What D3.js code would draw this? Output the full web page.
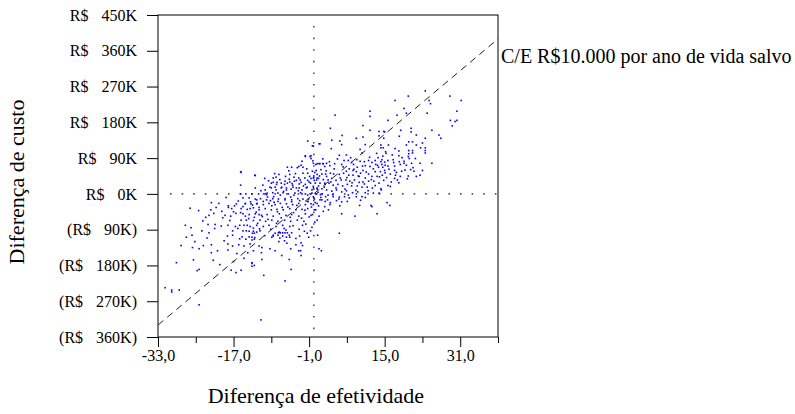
<!DOCTYPE html>
<html>
<head>
<meta charset="utf-8">
<script src="https://cdn.jsdelivr.net/npm/d3@7"></script>
<style>
  html, body { margin: 0; padding: 0; background: #fff; }
  svg { display: block; font-family: "Liberation Serif", "Times New Roman", serif; }
</style>
</head>
<body>
<div id="chart"></div>
<script>
// Cost-effectiveness scatter: effectiveness difference vs cost difference (K R$)
const width = 795, height = 414;
const margin = { top: 15, right: 297, bottom: 77, left: 158 };

const xTicks = [-33, -25, -17, -9, -1, 7, 15, 23, 31, 39];
const xLabelled = [-33, -17, -1, 15, 31];
const yTicks = [-360, -270, -180, -90, 0, 90, 180, 270, 360, 450];
const wtpPerYear = 10; // K R$ per life-year saved
const wtpLabel = "C/E R$10.000 por ano de vida salvo";

// [effectiveness difference, cost difference in K R$]
const iterations = [
  [20.0,246],[23.6,259],[28.8,246],[31.2,235],[17.2,235],[24.4,235],[24.7,227],[19.1,215],[19.6,203],[17.6,198],
  [24.0,203],[30.3,208],[28.9,185],[29.9,182],[30.3,185],[29.3,171],[15.7,185],[25.0,160],[26.5,148],[26.9,140],
  [20.6,165],[20.6,156],[18.4,160],[21.7,148],[18.1,145],[15.0,156],[23.6,140],[20.9,131],[20.1,131],[23.0,128],
  [21.7,123],[19.6,123],[14.2,123],[15.8,123],[22.6,116],[23.6,116],[23.6,109],[23.6,103],[20.1,109],[20.9,109],
  [18.0,108],[17.2,114],[15.2,106],[15.3,102],[20.1,101],[20.9,103],[16.6,98],[18.0,96],[20.0,94],[21.5,89],
  [20.2,89],[19.1,82],[19.1,77],[20.7,77],[22.5,77],[25.0,77],[14.2,81],[15.7,84],[16.8,86],[18.1,81],
  [15.1,72],[14.6,67],[15.7,70],[17.1,70],[18.3,74],[19.6,72],[21.0,66],[20.5,61],[23.0,59],[17.1,59],
  [15.0,59],[18.6,57],[21.2,57],[16.2,50],[17.3,47],[18.3,44],[20.0,45],[21.7,44],[22.5,47],[17.1,39],
  [17.7,35],[15.7,21],[16.2,19],[14.2,13],[14.2,116],[14.7,116],
  [11.9,208],[4.5,198],[11.9,195],[10.4,172],[3.5,165],[6.0,147],[11.9,160],[13.8,157],[14.8,157],
  [3.8,135],[5.5,133],[5.9,124],[3.7,114],[9.0,140],[10.4,143],[13.8,146],[14.8,140],[1.1,126],[-0.1,120],
  [9.8,112],[10.2,103],[10.9,124],[6.9,98],[5.4,97],[6.4,84],[7.3,84],[8.0,79],[8.4,74],[9.1,86],
  [9.8,82],[10.7,81],[11.6,84],[12.3,79],[13.0,84],[13.6,91],[14.4,86],[15.0,80],[13.1,74],[13.5,72],
  [14.4,74],[11.9,69],[10.9,71],[9.2,67],[1.1,76],[1.9,76],[2.7,77],[0.4,74],[-0.3,57],[1.5,61],
  [2.3,69],[3.4,71],[4.4,76],[5.9,74],[6.9,57],[7.5,63],[8.3,59],[9.0,56],[9.9,52],[10.4,59],
  [11.6,50],[13.0,56],[14.1,56],[15.1,53],[13.7,67],[12.3,44],[13.4,44],[14.5,47],[10.9,40],[9.6,44],
  [8.3,47],[7.4,47],[6.3,52],[5.4,49],[4.2,50],[3.5,52],[2.5,50],[1.7,50],[0.7,49],[0,45],
  [-0.6,39],[0.1,34],[1.0,39],[2.0,36],[3.0,35],[3.8,39],[4.7,34],[5.6,40],[6.8,35],[7.6,32],
  [8.6,35],[9.6,29],[10.4,30],[11.6,32],[12.7,32],[13.8,27],[14.8,34],[1.3,27],[2.4,24],[3.2,27],
  [4.1,22],[5.1,24],[6.1,20],[7.1,24],[8.0,20],[9.2,20],[10.2,17],[11.3,17],[12.4,15],[-0.1,19],
  [0.7,15],[1.7,13],[2.7,10],[3.8,7],[4.8,10],[5.9,5],[6.9,8],[8.2,3],[9.3,5],[10.9,3],
  [12.6,2],[13.8,2],[-0.4,2],[0.6,0],[1.8,0],[3.0,-3],[4.1,-7],[5.4,-8],[6.5,-7],[7.5,-10],
  [0.1,-13],[1.3,-15],[2.4,-19],[3.5,-22],[4.8,-17],[5.9,-20],[7.1,-19],[9.0,-7],[10.2,-7],[-0.1,-27],
  [1.0,-30],[2.3,-32],[3.4,-27],[5.5,-30],[9.7,-29],[12.3,-32],[15.5,-22],[0.4,-40],[2.0,-44],[3.1,-40],
  [5.9,-50],[8.7,-56],[-0.3,-52],[1.1,-56],[16.1,-29],[13.4,-50],[12.1,-29],[10.9,-9],
  [-1.8,94],[-0.8,94],[-0.6,89],[-2.5,82],[-0.1,77],[0.7,76],[-3.2,69],[-5.6,67],[-4.7,67],[-12.5,47],
  [-15.5,56],[-7.4,49],[-5.1,49],[-2.3,52],[-1.3,52],[0.2,54],[-3.2,40],[-1.9,40],[-0.1,40],[0.7,40],
  [-8.6,29],[-7.8,29],[-6.2,24],[-5.1,30],[-4.1,32],[-2.7,29],[-1.0,30],[0.3,27],[-9.3,17],[-8.2,17],
  [-6.8,17],[-5.8,15],[-4.4,17],[-3.1,15],[-1.4,17],[-0.1,15],[1.0,20],[-15.5,0],[-14.4,0],[-13.1,0],
  [-11.7,0],[-10.3,0],[-9.9,2],[-8.7,3],[-7.6,2],[-6.5,3],[-5.4,0],[-4.0,2],[-2.8,3],[-1.8,0],
  [-0.6,0],[0.4,0],[-15.0,-10],[-13.7,-10],[-12.4,-13],[-11.3,-12],[-10.0,-15],[-8.7,-12],[-7.5,-13],[-6.1,-12],
  [-4.7,-15],[-3.4,-12],[-2.3,-13],[-1.1,-13],[0,-10],[-14.5,-24],[-13.3,-25],[-12.0,-24],[-10.7,-27],[-9.5,-24],
  [-8.2,-27],[-7.1,-24],[-5.8,-25],[-4.5,-27],[-3.2,-24],[-1.8,-27],[-0.6,-25],[0.7,-24],[-15.4,-37],[-14.1,-39],
  [-12.8,-35],[-11.6,-40],[-10.3,-37],[-9.0,-40],[-7.8,-39],[-6.5,-40],[-5.1,-37],[-3.8,-40],[-2.5,-39],[-1.3,-37],
  [0.1,-40],[-15.0,-50],[-13.7,-52],[-12.4,-50],[-11.1,-54],[-9.9,-52],[-8.6,-56],[-7.3,-50],[-5.9,-54],[-4.7,-52],
  [-3.2,-56],[-1.8,-50],[-0.6,-54],[-15.4,-66],[-14.3,-66],[-12.8,-67],[-11.4,-66],[-10.2,-69],[-8.9,-66],[-7.6,-69],
  [-6.2,-66],[-4.9,-69],[-3.5,-66],[-2.1,-69],[0.7,-66],[-14.8,-79],[-13.5,-82],[-12.1,-79],[-10.7,-82],[-9.5,-79],
  [-8.0,-82],[-6.6,-79],[-5.1,-82],[-2.4,-79],[-14.3,-93],[-12.8,-94],[-11.4,-93],[-7.3,-96],[-5.9,-91],[-4.7,-98],
  [-2.0,-94],[-0.7,-93],[-15.2,-108],[-13.7,-108],[-8.6,-106],[-7.2,-111],[-5.1,-109],[-3.0,-106],[-12.6,-114],
  [-26.2,-36],[-21.7,-22],[-20.7,-34],[-19.5,-44],[-18.1,-30],[-17.4,-37],[-16.4,-25],[-14.5,-25],[-13.4,-20],[-12.1,-25],
  [-11.6,-34],[-27.2,-79],[-22.9,-59],[-22.2,-54],[-21.2,-49],[-18.8,-54],[-17.6,-56],[-16.5,-49],[-15.5,-47],[-14.5,-56],
  [-12.6,-59],[-11.6,-52],[-22.4,-77],[-20.9,-77],[-19.6,-81],[-18.2,-79],[-16.6,-82],[-15.7,-79],[-14.1,-79],[-12.8,-86],
  [-11.9,-74],[-23.7,-93],[-22.2,-98],[-17.2,-93],[-16.1,-87],[-15.0,-93],[-13.7,-94],[-12.1,-96],[-27.0,-109],[-25.8,-104],
  [-18.3,-106],[-17.2,-104],[-15.7,-113],[-14.4,-114],[-13.1,-116],[-28.1,-130],[-25.7,-135],[-24.3,-138],[-23.4,-130],[-21.7,-128],
  [-18.2,-126],[-17.2,-131],[-15.9,-128],[-14.8,-131],[-13.5,-126],[-21.7,-148],[-18.2,-141],[-14.0,-148],[-12.8,-143],[-29.1,-173],
  [-25.5,-166],[-21.3,-167],[-19.9,-178],[-24.7,-193],[-24.3,-190],[-17.5,-192],[-15.4,-192],[-16.5,-198],[-13.1,-175],[-13.1,-182],
  [-31.5,-236],[-30.1,-242],[-30.1,-247],[-28.5,-242],[-24.3,-279],[-11.2,-317],
  [-13.0,-99],[-12.6,-99],[-13.1,-109],[-12.5,-110],[-11.0,-135],[-11.6,-131],[-11.1,-148],[-11.0,-165],[-13.1,-173],[-12.6,-180],
  [-10.6,-205],[-8.9,-109],[-8.6,-104],[-8.2,-99],[-7.5,-98],[-7.1,-98],[-6.6,-98],[-6.1,-98],[-5.6,-98],[-7.6,-104],
  [-6.6,-106],[-5.8,-109],[-5.2,-104],[-6.2,-118],[-9.3,-138],[-8.2,-143],[-6.8,-155],[-5.2,-165],[-4.9,-138],[-4.8,-190],
  [-6.1,-219],[-3.8,-128],[-3.2,-143],[-2.8,-143],[-2.7,-123],[-2.7,-155],[-1.4,-99],[-1.1,-109],[1.1,-138],[1.6,-143],
  [5.4,-99],
  [-15.4,54],[-12.4,46],[-1.3,133],[-0.3,121],[-1.8,96],[-0.6,96],[1.3,126],[2.0,76],[1.3,76],[-2.7,72],
  [-2.3,67],[-3.5,66],[-8.6,40],[-8.0,42],[-10.4,39],[-6.1,32],[-5.2,37],[-4.2,42],[-3.7,34],[-1.3,34],
  [0.6,35],[2.7,44],[-9.0,27],[-7.9,24],[-6.9,27],[-5.6,27],[-4.5,22],[-3.1,25],[-1.8,24],[-0.7,27],
  [2.3,27],[-15.5,22],[-12.4,15],[-10.3,10],[-9.0,15],[-8.0,10],[-6.9,15],[-5.8,10],[-4.8,12],[-3.7,15],
  [-2.5,10],[-1.6,15],[-0.4,10],[0.7,12],[-10.0,-2],[-8.5,-7],[-7.1,-3],[-4.2,-3],[-2.5,0],[-1.3,-3],
  [-0.1,-7],[1.4,-2],[2.5,-7],[-12.1,-15],[-10.7,-19],[-9.2,-17],[-7.6,-19],[-6.1,-15],[-4.7,-20],[-3.0,-17],
  [-1.4,-19],[1.7,-15],[-18.1,-34],[-16.8,-30],[-15.0,-32],[-13.5,-37],
  [-11.2,8],[-10.8,22],[-9.8,-8],[-9.6,33],[-8.9,-30],[-8.3,51],[-7.7,-45],[-7.2,36],[-6.9,-60],[-6.4,6],
  [-6.0,44],[-5.5,-33],[-5.3,58],[-4.9,-8],[-4.6,26],[-4.3,-47],[-3.9,51],[-3.6,-29],[-3.3,8],[-2.9,35],
  [-2.6,-61],[-2.2,20],[-1.9,-41],[-1.5,63],[-1.2,-19],[-0.9,44],[-0.5,-33],[-0.2,83],[0.3,-22],[0.5,59],
  [0.9,4],[1.2,45],[1.5,-9],[1.9,88],[2.2,17],[2.6,58],[2.9,-15],[3.3,81],[3.6,30],[4.0,-2],
  [4.3,63],[4.7,15],[5.0,88],[5.3,-13],[5.8,35],[6.2,68],[6.6,12],[7.0,41],[7.3,-3],[7.8,91],
  [8.1,28],[8.5,62],[8.9,9],[9.4,45],[9.9,-16],[10.3,70],[10.7,25],[11.1,55],[11.5,8],[11.8,92],
  [12.2,36],[12.6,63],[13.0,21],[13.3,102],[13.9,43],[14.3,10],[14.6,95],[15.4,41],[15.9,62],[16.4,30],
  [16.9,79],[17.5,54],[18.0,28],[18.7,91],[19.3,60],[19.8,38],[-13.8,-62],[-13.0,-28],[-12.2,-46],[-11.5,-88],
  [-10.9,-57],[-10.4,-105],[-9.7,-64],[-9.1,-89],[-8.4,-21],[-7.9,-74],[-7.4,-120],[-6.7,-34],[-6.3,-87],[-5.7,-124],
  [-5.0,-59],[-4.4,-80],[-3.8,-112],[-3.1,-89],[-2.4,-130],[-1.7,-76],[-1.0,-58],[-0.4,-84],[0.2,-71],[0.8,-104],
  [-16.0,-18],[-17.0,-45],[-17.8,-67],[-18.6,-9],[-19.3,-60],[-20.1,-24],[-21.0,-87],[-21.8,-40],[-22.6,-111],[-23.5,-68],
  [-24.4,-42],[-25.2,-120],[-26.0,-85],[-19.0,-118],[-20.4,-143],[-16.3,-150],[-14.8,-162],[-17.0,-170]
];

const innerWidth = width - margin.left - margin.right;
const innerHeight = height - margin.top - margin.bottom;

const svg = d3.select("#chart")
  .append("svg")
  .attr("width", width)
  .attr("height", height);

const inner = svg.append("g")
  .attr("transform", `translate(${margin.left},${margin.top})`);

const x = d3.scaleLinear().domain([-33, 39]).range([0, innerWidth]);
const y = d3.scaleLinear().domain([-360, 450]).range([innerHeight, 0]);

// Frame
inner.append("rect")
  .attr("width", innerWidth)
  .attr("height", innerHeight)
  .attr("fill", "none")
  .attr("stroke", "#000")
  .attr("stroke-width", 1);

// Zero reference lines (dotted)
inner.append("line")
  .attr("x1", x(-33) + 12).attr("x2", x(39))
  .attr("y1", y(0)).attr("y2", y(0))
  .attr("stroke", "#555")
  .attr("stroke-width", 1.6)
  .attr("stroke-dasharray", "1.6,10");

inner.append("line")
  .attr("x1", x(0)).attr("x2", x(0))
  .attr("y1", y(450) + 11).attr("y2", y(-360))
  .attr("stroke", "#555")
  .attr("stroke-width", 1.6)
  .attr("stroke-dasharray", "1.6,10");

// Points
inner.append("g")
  .selectAll("rect")
  .data(iterations)
  .join("rect")
  .attr("x", d => x(d[0]) - 0.8)
  .attr("y", d => y(d[1]) - 0.8)
  .attr("width", 1.6)
  .attr("height", 1.6)
  .attr("fill", "#0000ff");

// Willingness-to-pay line
const wtpLine = d3.line().x(d => x(d)).y(d => y(d * wtpPerYear));
inner.append("path")
  .attr("d", wtpLine([-33, 39]))
  .attr("fill", "none")
  .attr("stroke", "#222")
  .attr("stroke-width", 1)
  .attr("stroke-dasharray", "7,5");

svg.append("text")
  .attr("x", margin.left + innerWidth + 3)
  .attr("y", 63)
  .style("font-size", "20px")
  .style("fill", "#000")
  .text(wtpLabel);

// X Axis
const fmtX = v => xLabelled.includes(v) ? v.toFixed(1).replace(".", ",") : "";
const xAxis = inner.append("g")
  .attr("transform", `translate(0,${innerHeight})`)
  .call(d3.axisBottom(x).tickValues(xTicks).tickFormat(fmtX).tickSize(10).tickSizeOuter(0).tickPadding(3));
xAxis.select(".domain").remove();
xAxis.selectAll(".tick line")
  .attr("y2", d => xLabelled.includes(d) ? 10 : 6);
xAxis.selectAll("text")
  .style("font-family", "Liberation Serif, serif")
  .style("font-size", "16px")
  .style("fill", "#000");

// Y Axis: currency prefix and amount split with a fixed gap
const yAxis = inner.append("g")
  .call(d3.axisLeft(y).tickValues(yTicks).tickSize(11).tickSizeOuter(0).tickPadding(10));
yAxis.select(".domain").remove();
yAxis.selectAll(".tick text")
  .style("font-family", "Liberation Serif, serif")
  .style("font-size", "16px")
  .style("fill", "#000")
  .each(function (v) {
    const t = d3.select(this).text(null);
    t.append("tspan").text(v < 0 ? "(R$" : "R$");
    t.append("tspan").attr("dx", 13).text(v < 0 ? `${-v}K)` : `${v}K`);
  });

// Axis titles
svg.append("text")
  .attr("x", margin.left + x(0) + 2)
  .attr("y", 403)
  .attr("text-anchor", "middle")
  .style("font-size", "22px")
  .style("fill", "#000")
  .text("Diferença de efetividade");

svg.append("text")
  .attr("transform", "rotate(-90)")
  .attr("x", -182)
  .attr("y", 24)
  .attr("text-anchor", "middle")
  .style("font-size", "22px")
  .style("fill", "#000")
  .text("Diferença de custo");
</script>
</body>
</html>
